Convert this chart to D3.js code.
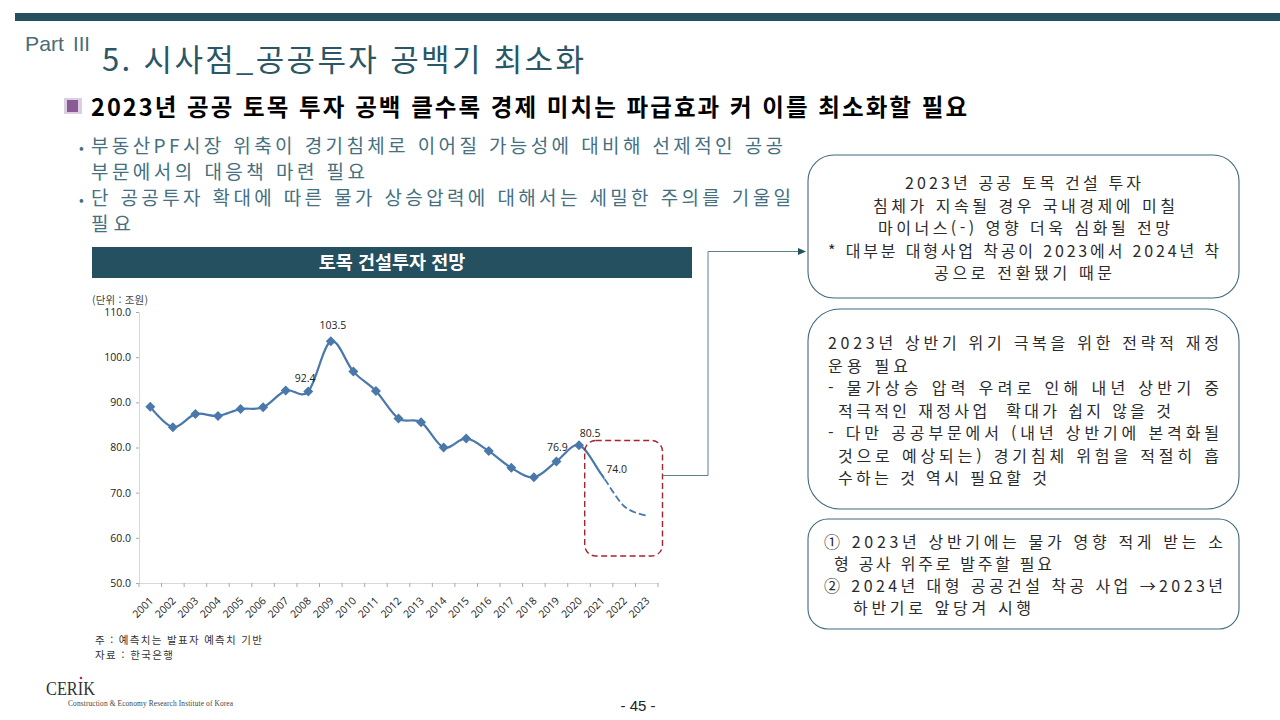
<!DOCTYPE html>
<html lang="ko">
<head>
<meta charset="utf-8">
<script src="https://cdn.jsdelivr.net/npm/d3@7/dist/d3.min.js"></script>
<style>
html,body{margin:0;padding:0;background:#fff;overflow:hidden}
svg{display:block}
text{font-family:"Noto Sans CJK KR","Noto Sans",sans-serif}
</style>
</head>
<body>
<svg id="c" width="1280" height="720"></svg>
<script>
const years = ["2001","2002","2003","2004","2005","2006","2007","2008","2009","2010","2011","2012","2013","2014","2015","2016","2017","2018","2019","2020","2021","2022","2023"];
const investment = [89.0,84.5,87.4,87.0,88.5,88.9,92.6,92.4,103.5,96.8,92.5,86.4,85.6,80.0,82.0,79.2,75.5,73.4,76.9,80.5,74.0,67.0,64.9];
const yTicks = [50,60,70,80,90,100,110];
const lastMarkerYear = "2020";
const forecastFrom = "2021";
const labelled = ["2008","2009","2019","2020","2021"];

const TEAL = "#24505f";
const svg = d3.select("#c");

function fit(s, x0, x1, y, size, fill, weight){
  return svg.append("text").attr("x",x0).attr("y",y)
    .attr("textLength",x1-x0).attr("lengthAdjust","spacing")
    .attr("font-size",size).attr("fill",fill).attr("font-weight",weight||400)
    .attr("xml:space","preserve").text(s);
}
// one paragraph = one text element; each line is [string, x0, x1, baseline]
function para(lines, size, fill, weight){
  const t = svg.append("text").attr("font-size",size).attr("fill",fill)
    .attr("font-weight",weight||400).attr("xml:space","preserve");
  lines.forEach(l=>t.append("tspan").attr("x",l[1]).attr("y",l[3])
    .attr("textLength",l[2]-l[1]).attr("lengthAdjust","spacing").text(l[0]));
  return t;
}

// header
svg.append("rect").attr("x",15).attr("y",13).attr("width",1265).attr("height",8).attr("fill",TEAL);
fit("Part",25,64,51,21,"#4b6b78").attr("lengthAdjust","spacingAndGlyphs").style("font-family",'"Liberation Sans",sans-serif');
fit("III",73,90,51,21,"#4b6b78").attr("lengthAdjust","spacingAndGlyphs").style("font-family",'"Liberation Sans",sans-serif');
fit("5. 시사점_공공투자 공백기 최소화",102,584,71,31,"#2a5666");

// square bullet
svg.append("rect").attr("x",64).attr("y",98).attr("width",18).attr("height",16).attr("fill","#d9cfe0");
svg.append("rect").attr("x",67).attr("y",100).attr("width",11).attr("height",12).attr("fill","#8a5a96");
fit("2023년 공공 토목 투자 공백 클수록 경제 미치는 파급효과 커 이를 최소화할 필요",91,967,116,23.5,"#000",700);

// bullets
const bulletInk = "#44707f";
svg.append("text").attr("x",79).attr("y",153).attr("font-size",14).attr("fill",bulletInk).text("•");
svg.append("text").attr("x",79).attr("y",205).attr("font-size",14).attr("fill",bulletInk).text("•");
para([["부동산PF시장 위축이 경기침체로 이어질 가능성에 대비해 선제적인 공공",91,783,153],
      ["부문에서의 대응책 마련 필요",91,365,179],
      ["단 공공투자 확대에 따른 물가 상승압력에 대해서는 세밀한 주의를 기울일",91,791,205],
      ["필요",91,131,231]],19,bulletInk);

// chart title band
svg.append("rect").attr("x",92).attr("y",247).attr("width",600).attr("height",31).attr("fill",TEAL);
svg.append("text").attr("x",392).attr("y",268.5).attr("text-anchor","middle")
  .attr("font-size",18.5).attr("font-weight",700).attr("fill","#fff").text("토목 건설투자 전망");

fit("(단위 : 조원)",92,148,304,10.5,"#444");

// chart
const x = d3.scaleBand().domain(years).range([139,658]);
const y = d3.scaleLinear().domain([50,110]).range([583,312]);
const cx = d => x(d)+x.bandwidth()/2;

const yAxis = svg.append("g").attr("transform","translate(139,0)")
  .call(d3.axisLeft(y).tickValues(yTicks).tickSize(3).tickPadding(5).tickFormat(d3.format(".1f")));
const xBoundaries = years.map(d=>x(d)).concat([658]);
const xAxis = svg.append("g").attr("transform","translate(0,583)")
  .call(d3.axisBottom(x).tickSize(0).tickPadding(0));
xAxis.selectAll(".bound").data(xBoundaries).enter().append("line").attr("class","bound")
  .attr("x1",d=>d).attr("x2",d=>d).attr("y1",0).attr("y2",4).attr("stroke","#aaa");
for(const a of [yAxis,xAxis]){
  a.selectAll(".domain").attr("stroke","#d9d9d9");
  a.selectAll(".tick line").attr("stroke","#aaa");
  a.selectAll("text").attr("fill","#222").attr("font-size",10.5)
    .style("font-family",'"Open Sans",sans-serif');
}
xAxis.selectAll(".tick line").remove();
xAxis.selectAll(".tick text").attr("text-anchor","end")
  .attr("x",0).attr("y",0).attr("dy","0.35em")
  .attr("transform","translate(1,16) rotate(-45)");

const pts = years.map((d,i)=>({year:d,value:investment[i]}));
const line = d3.line().x(d=>cx(d.year)).y(d=>y(d.value)).curve(d3.curveCatmullRom.alpha(0));
const split = cx(forecastFrom)+3;
const defs = svg.append("defs");
defs.append("clipPath").attr("id","solid").append("rect").attr("x",0).attr("y",0).attr("width",split).attr("height",720);
defs.append("clipPath").attr("id","dash").append("rect").attr("x",split).attr("y",0).attr("width",1280-split).attr("height",720);
svg.append("path").datum(pts).attr("d",line).attr("fill","none").attr("stroke","#4a78ab")
  .attr("stroke-width",2.2).attr("clip-path","url(#solid)");
svg.append("path").datum(pts).attr("d",line).attr("fill","none").attr("stroke","#4a78ab")
  .attr("stroke-width",1.8).attr("stroke-dasharray","7 3").attr("clip-path","url(#dash)");

const lastIdx = years.indexOf(lastMarkerYear);
svg.selectAll(".pt").data(pts.slice(0,lastIdx+1)).enter().append("path").attr("class","pt")
  .attr("d",d3.symbol(d3.symbolSquare,50))
  .attr("transform",d=>`translate(${cx(d.year)},${y(d.value)}) rotate(45)`)
  .attr("fill","#4a78ab");

const labelOffset = {"2008":[-3,-9],"2009":[2,-12],"2019":[1,-11],"2020":[11,-8],"2021":[15,-2]};
svg.selectAll(".lab").data(pts.filter(d=>labelled.includes(d.year))).enter().append("text").attr("class","lab")
  .attr("x",d=>cx(d.year)+labelOffset[d.year][0])
  .attr("y",d=>y(d.value)+labelOffset[d.year][1])
  .attr("text-anchor","middle").attr("font-size",10.5).attr("fill","#222")
  .style("font-family",'"Open Sans",sans-serif')
  .text(d=>d.value.toFixed(1));

// forecast frame and connector
svg.append("rect").attr("x",584.7).attr("y",440.5).attr("width",77.8).attr("height",115.5).attr("rx",11)
  .attr("fill","none").attr("stroke","#a8222e").attr("stroke-width",1.4).attr("stroke-dasharray","6 3.5");
svg.append("path").attr("d","M662.5 475.5H708V251.5H799").attr("fill","none").attr("stroke","#5d808c").attr("stroke-width",1);
svg.append("path").attr("d","M798 248L806 251.5L798 255Z").attr("fill",TEAL);

// note boxes
[[808,155,431,143,26],[808,309,431,200,32],[808,519,431,110,20]].forEach(b=>{
  svg.append("rect").attr("x",b[0]).attr("y",b[1]).attr("width",b[2]).attr("height",b[3]).attr("rx",b[4])
    .attr("fill","#fff").attr("stroke","#41697a").attr("stroke-width",1.1);
});
const ink = "#2b2b2b", fs = 16;
para([["2023년 공공 토목 건설 투자",905,1141,189],
 ["침체가 지속될 경우 국내경제에 미칠",873,1175,211.5],
 ["마이너스(-) 영향 더욱 심화될 전망",878,1170,234],
 ["* 대부분 대형사업 착공이 2023에서 2024년 착",828,1219,256.5],
 ["공으로 전환됐기 때문",934,1112,279]],fs,ink);
para([["2023년 상반기 위기 극복을 위한 전략적 재정",828,1219,349],
 ["운용 필요",828,908,371.5],
 ["- 물가상승 압력 우려로 인해 내년 상반기 중",828,1219,394],
 ["적극적인 재정사업  확대가 쉽지 않을 것",838,1171,416.5],
 ["- 다만 공공부문에서 (내년 상반기에 본격화될",828,1219,439],
 ["것으로 예상되는) 경기침체 위험을 적절히 흡",838,1219,461.5],
 ["수하는 것 역시 필요할 것",838,1047,484]],fs,ink);
para([["① 2023년 상반기에는 물가 영향 적게 받는 소",824,1223,548],
 ["형 공사 위주로 발주할 필요",834,1052,570],
 ["② 2024년 대형 공공건설 착공 사업 →2023년",824,1223,592],
 ["하반기로 앞당겨 시행",853,1031,614]],fs,ink);

// footnotes
para([["주 : 예측치는 발표자 예측치 기반",95,262,644],["자료 : 한국은행",95,173,659]],10.5,"#333");

// logo and page number
svg.append("text").attr("x",46).attr("y",695).attr("font-size",18).attr("fill","#333")
  .attr("textLength",49).attr("lengthAdjust","spacingAndGlyphs")
  .style("font-family",'"Liberation Serif",serif').text("CERIK");
svg.append("circle").attr("cx",81).attr("cy",678).attr("r",1.3).attr("fill","#b0304a");
svg.append("text").attr("x",68).attr("y",705.5).attr("font-size",7.4).attr("fill","#444")
  .attr("textLength",165).style("font-family",'"Liberation Serif",serif')
  .text("Construction & Economy Research Institute of Korea");
svg.append("text").attr("x",638).attr("y",711).attr("text-anchor","middle").attr("font-size",15).attr("fill","#222")
  .style("font-family",'"Liberation Sans",sans-serif').text("- 45 -");
</script>
</body>
</html>
